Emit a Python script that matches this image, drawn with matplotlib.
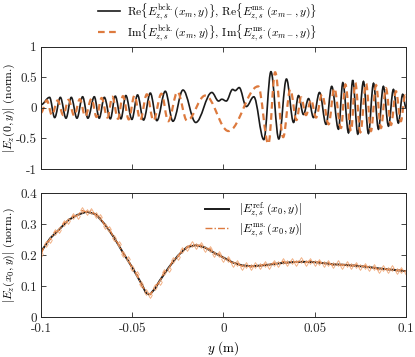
import matplotlib
matplotlib.use("Agg")
import matplotlib.pyplot as plt
import numpy as np
from matplotlib.path import Path
from matplotlib.patches import PathPatch
from matplotlib.lines import Line2D

plt.rcParams['font.family'] = 'serif'
plt.rcParams['font.serif'] = ['cmr10']
plt.rcParams['mathtext.fontset'] = 'cm'
plt.rcParams['axes.unicode_minus'] = False
plt.rcParams['font.size'] = 10

BLACK = '#1a1a1a'
ORANGE = '#DD7A3E'

# top panel: extrema of the oscillating fields (y in m, normalised value)
re_y = [-0.1000, -0.0953, -0.0925, -0.0894, -0.0863, -0.0834, -0.0803, -0.0772, -0.0743,
        -0.0708, -0.0681, -0.0653, -0.0620, -0.0593, -0.0562, -0.0535, -0.0502, -0.0471,
        -0.0438, -0.0401, -0.0365, -0.0319, -0.0277, -0.0222, -0.0152, -0.0064, -0.0027,
        -0.0009, 0.0015, 0.0050, 0.0064, 0.0086, 0.0125, 0.0166, 0.0221, 0.0260, 0.0303,
        0.0345, 0.0384, 0.0411, 0.0438, 0.0466, 0.0493, 0.0526, 0.0562, 0.0593, 0.0630,
        0.0654, 0.0685, 0.0708, 0.0736, 0.0767, 0.0794, 0.0822, 0.0849, 0.0876, 0.0904,
        0.0931, 0.0958, 0.0982, 0.1000]
re_v = [0.05, 0.17, -0.16, 0.17, -0.17, 0.17, -0.17, 0.18, -0.17,
        0.18, -0.17, 0.17, -0.18, 0.19, -0.18, 0.20, -0.19, 0.21,
        -0.20, 0.24, -0.21, 0.27, -0.22, 0.29, -0.24, 0.25, 0.11,
        0.14, 0.11, 0.30, 0.28, 0.33, 0.02, 0.18, -0.52, 0.59, -0.51,
        0.47, -0.24, 0.20, -0.11, 0.15, -0.16, 0.25, -0.27, 0.35, -0.35,
        0.41, -0.41, 0.45, -0.43, 0.43, -0.42, 0.40, -0.35, 0.35, -0.30,
        0.30, -0.25, 0.22, 0.00]

im_y = [-0.1000, -0.0968, -0.0940, -0.0909, -0.0878, -0.0849, -0.0818, -0.0787, -0.0758,
        -0.0723, -0.0696, -0.0668, -0.0636, -0.0609, -0.0578, -0.0551, -0.0519, -0.0488,
        -0.0456, -0.0420, -0.0384, -0.0340, -0.0303, -0.0252, -0.0200, -0.0100, 0.0027,
        0.0190, 0.0246, 0.0283, 0.0327, 0.0366, 0.0400, 0.0425, 0.0452, 0.0480, 0.0507,
        0.0540, 0.0576, 0.0607, 0.0644, 0.0668, 0.0699, 0.0722, 0.0750, 0.0781, 0.0808,
        0.0836, 0.0863, 0.0890, 0.0918, 0.0945, 0.0972, 0.0995, 0.1000]
im_v = [-0.08, 0.12, -0.12, 0.12, -0.12, 0.13, -0.13, 0.14, -0.14,
        0.15, -0.15, 0.16, -0.16, 0.18, -0.18, 0.19, -0.19, 0.20,
        -0.20, 0.22, -0.21, 0.23, -0.22, 0.26, -0.21, 0.20, -0.38,
        0.35, -0.59, 0.58, -0.48, 0.30, -0.20, 0.17, -0.12, 0.13, -0.16,
        0.22, -0.27, 0.32, -0.33, 0.38, -0.38, 0.41, -0.40, 0.40, -0.38,
        0.37, -0.33, 0.32, -0.28, 0.27, -0.22, 0.20, 0.18]

# bottom panel: field magnitude
ref_y = [-0.100, -0.095, -0.090, -0.085, -0.080, -0.075, -0.070, -0.065, -0.060, -0.055,
         -0.050, -0.045, -0.0425, -0.041, -0.040, -0.0375, -0.035, -0.030, -0.025, -0.020,
         -0.015, -0.010, -0.005, 0.000, 0.005, 0.010, 0.015, 0.020, 0.025, 0.030,
         0.035, 0.040, 0.045, 0.050, 0.055, 0.060, 0.065, 0.070, 0.075, 0.080,
         0.085, 0.090, 0.095, 0.100]
ref_v = [0.211, 0.254, 0.283, 0.313, 0.330, 0.340, 0.332, 0.299, 0.257, 0.207,
         0.160, 0.108, 0.078, 0.073, 0.075, 0.092, 0.117, 0.160, 0.198, 0.226,
         0.232, 0.224, 0.207, 0.192, 0.176, 0.167, 0.164, 0.166, 0.169, 0.173,
         0.176, 0.178, 0.178, 0.177, 0.174, 0.170, 0.169, 0.167, 0.164, 0.161,
         0.157, 0.154, 0.151, 0.148]

ms_y = np.linspace(-0.1, 0.1, 81)
ms_v = [0.203, 0.237, 0.250, 0.274, 0.280, 0.304, 0.309, 0.326, 0.327, 0.344,
        0.339, 0.343, 0.329, 0.322, 0.295, 0.285, 0.254, 0.236, 0.204, 0.188,
        0.157, 0.138, 0.105, 0.082, 0.072, 0.097, 0.114, 0.145, 0.156, 0.185,
        0.194, 0.218, 0.223, 0.235, 0.229, 0.233, 0.221, 0.221, 0.203, 0.204,
        0.188, 0.188, 0.172, 0.176, 0.163, 0.168, 0.161, 0.168, 0.164, 0.171,
        0.166, 0.175, 0.170, 0.180, 0.174, 0.181, 0.176, 0.183, 0.175, 0.182,
        0.174, 0.179, 0.171, 0.175, 0.167, 0.173, 0.166, 0.171, 0.164, 0.169,
        0.161, 0.166, 0.157, 0.161, 0.152, 0.159, 0.152, 0.157, 0.149, 0.153,
        0.146]

xticks = [-0.1, -0.05, 0, 0.05, 0.1]
xtick_labels = ['-0.1', '-0.05', '0', '0.05', '0.1']
top_yticks = [-1, -0.5, 0, 0.5, 1]
top_ytick_labels = ['-1', '-0.5', '0', '0.5', '1']
bot_yticks = [0, 0.1, 0.2, 0.3, 0.4]
bot_ytick_labels = ['0', '0.1', '0.2', '0.3', '0.4']


def smooth_path(xs, ys):
    # cubic segments with flat tangents at each extremum
    verts = [(xs[0], ys[0])]
    codes = [Path.MOVETO]
    for i in range(len(xs) - 1):
        dx = xs[i + 1] - xs[i]
        verts += [(xs[i] + 0.36 * dx, ys[i]), (xs[i + 1] - 0.36 * dx, ys[i + 1]),
                  (xs[i + 1], ys[i + 1])]
        codes += [Path.CURVE4] * 3
    return Path(verts, codes)


def style_axes(ax):
    ax.tick_params(direction='in', top=True, right=True, length=3.5, width=0.6,
                   colors='#262626', labelsize=9.5, pad=3)
    ax.tick_params(axis='x', pad=4.5)
    for s in ax.spines.values():
        s.set_linewidth(0.7)
        s.set_color('#262626')
    ax.set_xlim(-0.1, 0.1)
    ax.set_xticks(xticks)


fig = plt.figure(figsize=(4.15, 3.57), dpi=100)
ax1 = fig.add_axes([0.0988, 0.5266, 0.8795, 0.343])
ax2 = fig.add_axes([0.0988, 0.112, 0.8795, 0.347])

ax1.add_patch(PathPatch(smooth_path(re_y, re_v), fill=False, edgecolor=BLACK, lw=1.2))
ax1.add_patch(PathPatch(smooth_path(im_y, im_v), fill=False, edgecolor=ORANGE, lw=1.6,
                        linestyle=(0, (3, 2))))
style_axes(ax1)
ax1.set_ylim(-1, 1)
ax1.set_yticks(top_yticks)
ax1.set_yticklabels(top_ytick_labels)
ax1.set_xticklabels([])
ax1.set_ylabel(r'$|E_z(0,y)|$ (norm.)', fontsize=8.5)
ax1.yaxis.set_label_coords(-0.066, 0.5)

h_re = Line2D([], [], color=BLACK, lw=1.2)
h_im = Line2D([], [], color=ORANGE, lw=1.6, linestyle=(0, (3, 2)))
fig.legend([h_re, h_im],
           [r'Re$\{E_{z,s}^{\mathrm{bck.}}(x_m,y)\}$, Re$\{E_{z,s}^{\mathrm{ms.}}(x_{m-},y)\}$',
            r'Im$\{E_{z,s}^{\mathrm{bck.}}(x_m,y)\}$, Im$\{E_{z,s}^{\mathrm{ms.}}(x_{m-},y)\}$'],
           loc='upper center', bbox_to_anchor=(0.5, 1.025), frameon=False, fontsize=8.3,
           handlelength=1.9, handletextpad=0.6, labelspacing=0.0)

ax2.plot(ref_y, ref_v, color=BLACK, lw=1.4, label=r'$|E_{z,s}^{\mathrm{ref.}}(x_0,y)|$')
ax2.plot(ms_y, ms_v, color=ORANGE, lw=1.0, linestyle=(0, (5, 1.5, 1, 1.5)),
         label=r'$|E_{z,s}^{\mathrm{ms.}}(x_0,y)|$')
ax2.plot(ms_y, ms_v, linestyle='none', marker='d', ms=3, mfc='none', mec='#F0A878',
         mew=0.6)
style_axes(ax2)
ax2.set_ylim(0, 0.4)
ax2.set_yticks(bot_yticks)
ax2.set_yticklabels(bot_ytick_labels)
ax2.set_xticklabels(xtick_labels)
ax2.set_xlabel(r'$y$ (m)', fontsize=9.5, labelpad=3)
ax2.set_ylabel(r'$|E_z(x_0,y)|$ (norm.)', fontsize=8.5)
ax2.yaxis.set_label_coords(-0.066, 0.5)
ax2.legend(loc='upper left', bbox_to_anchor=(0.42, 1.025), frameon=False, fontsize=8.5,
           handlelength=2.0, handletextpad=0.9, labelspacing=0.15)

fig.savefig('out.png', dpi=100)
